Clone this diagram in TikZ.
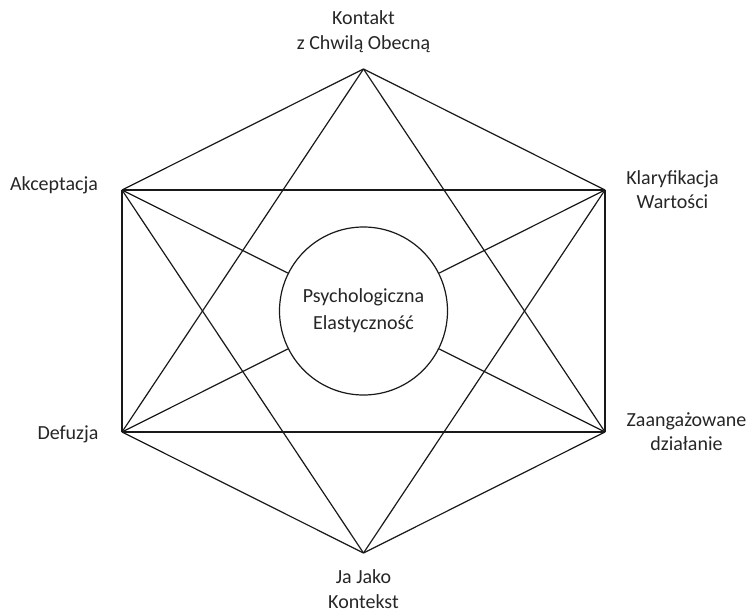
\documentclass[tikz,border=0pt]{standalone}
\usepackage{fontspec}
\setmainfont{Carlito}
\begin{document}
\begin{tikzpicture}[x=1pt,y=-1pt,
  edge/.style={draw=black!90, line width=1.2pt},
  lbl/.style={font=\fontsize{20}{24.5}\selectfont, text=black!85, inner sep=0pt, align=center},
  hub/.style={circle, draw=black!90, line width=1.2pt, fill=white, minimum size=168pt, inner sep=0pt, align=center, font=\fontsize{20}{27}\selectfont, text=black!85}]
\useasboundingbox (0,0) rectangle (754,612);
\coordinate (T) at (363.5,69);
\coordinate (UL) at (122,190);
\coordinate (UR) at (605,190);
\coordinate (LL) at (122,432);
\coordinate (LR) at (605,432);
\coordinate (B) at (363.5,553);
\node[hub] (pe) at (363.5,311) {Psychologiczna\\Elastyczność};
\draw[edge] (T) -- (UL);
\draw[edge] (T) -- (UR);
\draw[edge] (T) -- (LL);
\draw[edge] (T) -- (LR);
\draw[edge] (UL) -- (UR);
\draw[edge] (UL) -- (LL);
\draw[edge] (UL) -- (B);
\draw[edge] (UR) -- (LR);
\draw[edge] (UR) -- (B);
\draw[edge] (LL) -- (LR);
\draw[edge] (LL) -- (B);
\draw[edge] (LR) -- (B);
\draw[edge] (UL) -- (pe);
\draw[edge] (UR) -- (pe);
\draw[edge] (LL) -- (pe);
\draw[edge] (LR) -- (pe);
\node[lbl] (tT) at (363.5,31.5) {Kontakt\\z Chwilą Obecną};
\node[lbl, anchor=base] (tUL) at (54,191) {Akceptacja};
\node[lbl] (tUR) at (672.5,189.5) {Klaryfikacja\\Wartości};
\node[lbl, anchor=base] (tLL) at (68,439) {Defuzja};
\node[lbl] (tLR) at (686.5,431.5) {Zaangażowane\\działanie};
\node[lbl] (tB) at (363.5,589) {Ja Jako\\Kontekst};
\end{tikzpicture}
\end{document}
